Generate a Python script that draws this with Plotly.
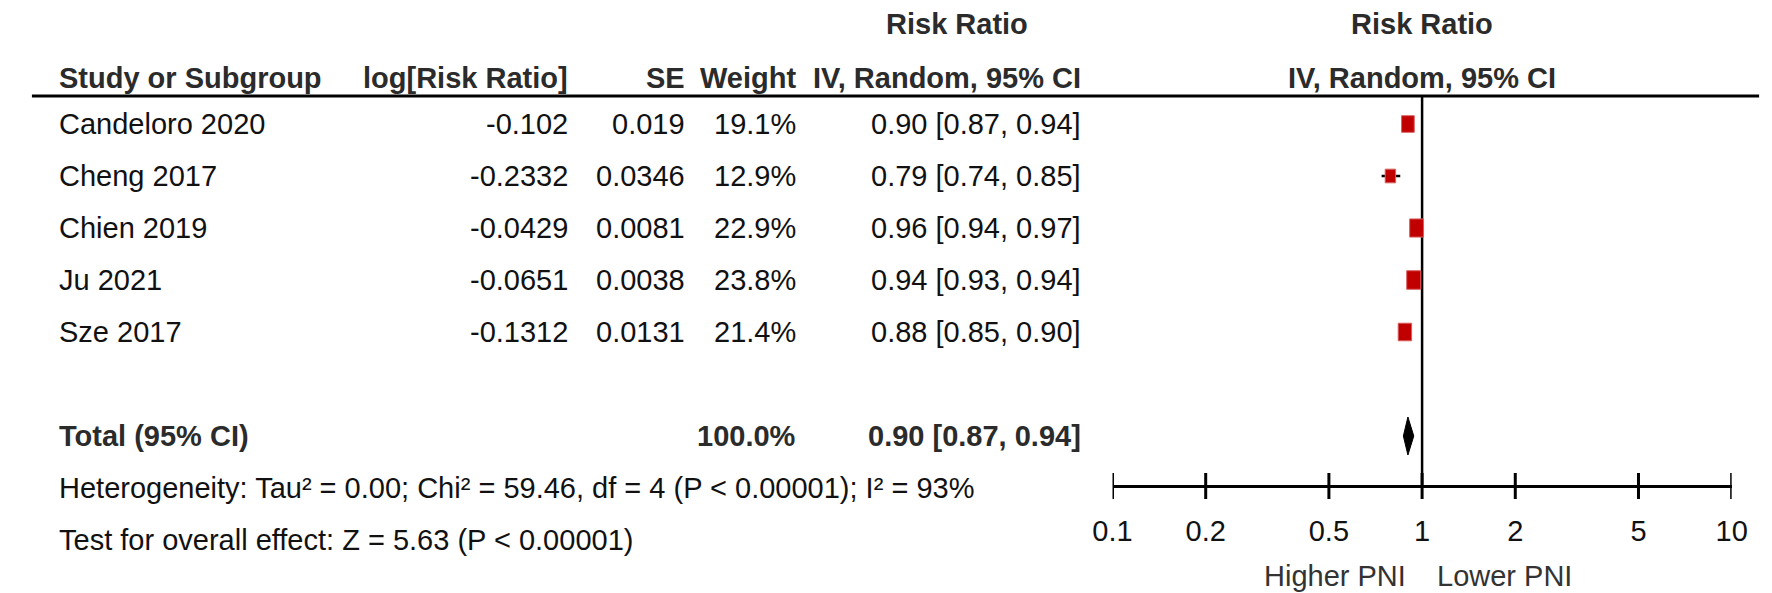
import numpy as np
import plotly.graph_objects as go

# ---------------- data ----------------
studies = ["Candeloro 2020", "Cheng 2017", "Chien 2019", "Ju 2021", "Sze 2017"]
log_rr = [-0.102, -0.2332, -0.0429, -0.0651, -0.1312]
se = [0.019, 0.0346, 0.0081, 0.0038, 0.0131]
weight = [19.1, 12.9, 22.9, 23.8, 21.4]
rr = [0.90, 0.79, 0.96, 0.94, 0.88]
ci_lo = [0.87, 0.74, 0.94, 0.93, 0.85]
ci_hi = [0.94, 0.85, 0.97, 0.94, 0.90]

total_label = "Total (95% CI)"
total_weight = 100.0
total_rr = 0.90
total_lo = 0.87
total_hi = 0.94

heterogeneity = "Heterogeneity: Tau² = 0.00; Chi² = 59.46, df = 4 (P &lt; 0.00001); I² = 93%"
overall = "Test for overall effect: Z = 5.63 (P &lt; 0.00001)"

tick_vals = [0.1, 0.2, 0.5, 1, 2, 5, 10]
tick_text = ["0.1", "0.2", "0.5", "1", "2", "5", "10"]
favours_left = "Higher PNI"
favours_right = "Lower PNI"

# ---------------- layout constants ----------------
W, H = 1772, 593
FONT = "Liberation Sans, Arial, sans-serif"
FS = 29
TXT = "#111111"
HDR = "#2b2b2b"
RED = "#c00000"

X_AX0, X_AX1 = 1107, 1739      # pixel extent of the 0.1 .. 10 axis
Y_HDR1, Y_HDR2, Y_RULE = 16, 70, 88
ROW0, ROW_STEP = 116, 52
Y_AXIS = 478
Y_TICKLAB = 522
Y_FAV = 568

col_name_x = 30
col_log_x = 553
col_se_x = 673
col_w_x = 786
col_ci_x = 1077
col_ci_c = 948

row_y = [ROW0 + i * ROW_STEP for i in range(len(studies))]
y_total = ROW0 + (len(studies) + 1) * ROW_STEP
y_het = y_total + ROW_STEP
y_test = y_het + ROW_STEP


def px(x):
    return x / W


fig = go.Figure()

# vertical line of no effect
fig.add_trace(go.Scatter(x=[0, 0], y=[Y_RULE, Y_AXIS], mode="lines",
                         line=dict(color="black", width=2.5), hoverinfo="skip"))

# CI whiskers
wx, wy = [], []
for lo, hi, y in zip(ci_lo, ci_hi, row_y):
    wx += [np.log10(lo), np.log10(hi), None]
    wy += [y, y, None]
fig.add_trace(go.Scatter(x=wx, y=wy, mode="lines",
                         line=dict(color="black", width=2.5), hoverinfo="skip"))

# ticks crossing the axis line
tx, ty = [], []
for t in tick_vals:
    tx += [np.log10(t), np.log10(t), None]
    ty += [Y_AXIS - 13, Y_AXIS + 13, None]
fig.add_trace(go.Scatter(x=tx, y=ty, mode="lines",
                         line=dict(color="black", width=3), hoverinfo="skip"))

# summary diamond
d_h = 19
fig.add_trace(go.Scatter(
    x=[np.log10(total_lo), np.log10(total_rr), np.log10(total_hi), np.log10(total_rr), np.log10(total_lo)],
    y=[y_total, y_total - d_h, y_total, y_total + d_h, y_total],
    mode="lines", fill="toself", fillcolor="black",
    line=dict(color="black", width=1), hoverinfo="skip"))

shapes = []
# study boxes (size ~ sqrt(weight))
for r, w, y in zip(rr, weight, row_y):
    bw = 2.9 * np.sqrt(w)
    bh = 3.8 * np.sqrt(w)
    shapes.append(dict(type="rect", xref="x", yref="y",
                       xsizemode="pixel", ysizemode="pixel",
                       xanchor=np.log10(r), yanchor=y,
                       x0=-bw / 2, x1=bw / 2, y0=-bh / 2, y1=bh / 2,
                       fillcolor=RED, line=dict(color="#d86060", width=1)))
# header rule
shapes.append(dict(type="line", xref="paper", yref="y",
                   x0=px(4), x1=px(1767), y0=Y_RULE, y1=Y_RULE,
                   line=dict(color="black", width=3)))

ann = []


def add(text, x, y, anchor, bold=False, color=TXT, size=FS):
    if bold:
        text = "<b>" + text + "</b>"
    ann.append(dict(text=text, x=px(x), y=y, xref="paper", yref="y",
                    xanchor=anchor, yanchor="middle", showarrow=False,
                    font=dict(family=FONT, size=size, color=color)))


# headers
add("Risk Ratio", col_ci_c, Y_HDR1, "center", True, HDR)
add("Risk Ratio", (X_AX0 + X_AX1) / 2, Y_HDR1, "center", True, HDR)
add("Study or Subgroup", col_name_x, Y_HDR2, "left", True, HDR)
add("log[Risk Ratio]", col_log_x, Y_HDR2, "right", True, HDR)
add("SE", col_se_x, Y_HDR2, "right", True, HDR)
add("Weight", col_w_x, Y_HDR2, "right", True, HDR)
add("IV, Random, 95% CI", col_ci_x, Y_HDR2, "right", True, HDR)
add("IV, Random, 95% CI", (X_AX0 + X_AX1) / 2, Y_HDR2, "center", True, HDR)

# study rows
for s, l, e, w, r, lo, hi, y in zip(studies, log_rr, se, weight, rr, ci_lo, ci_hi, row_y):
    add(s, col_name_x, y, "left")
    add(str(l), col_log_x, y, "right")
    add(str(e), col_se_x, y, "right")
    add(f"{w:.1f}%", col_w_x, y, "right")
    add(f"{r:.2f} [{lo:.2f}, {hi:.2f}]", col_ci_x, y, "right")

# total
add(total_label, col_name_x, y_total, "left", True, HDR)
add(f"{total_weight:.1f}%", col_w_x, y_total, "right", True, HDR)
add(f"{total_rr:.2f} [{total_lo:.2f}, {total_hi:.2f}]", col_ci_x, y_total, "right", True, HDR)
add(heterogeneity, col_name_x, y_het, "left")
add(overall, col_name_x, y_test, "left")

# favours labels
x_one = (X_AX0 + X_AX1) / 2
add(favours_left, x_one - 14, Y_FAV, "right", False, "#333333")
add(favours_right, x_one + 13, Y_FAV, "left", False, "#333333")

fig.update_layout(
    width=W, height=H,
    margin=dict(l=0, r=0, t=0, b=0),
    paper_bgcolor="white", plot_bgcolor="white",
    showlegend=False,
    shapes=shapes, annotations=ann,
    xaxis=dict(domain=[px(X_AX0), px(X_AX1)], range=[-1, 1],
               anchor="free", position=1 - Y_AXIS / H,
               showline=True, linewidth=3, linecolor="black",
               ticks="", tickvals=[float(np.log10(t)) for t in tick_vals], ticktext=tick_text,
               tickfont=dict(family=FONT, size=FS, color=TXT),
               ticklabelstandoff=18,
               showgrid=False, zeroline=False, fixedrange=True),
    yaxis=dict(domain=[0, 1], range=[H, 0], visible=False, fixedrange=True),
)

fig.write_html("out.html")
